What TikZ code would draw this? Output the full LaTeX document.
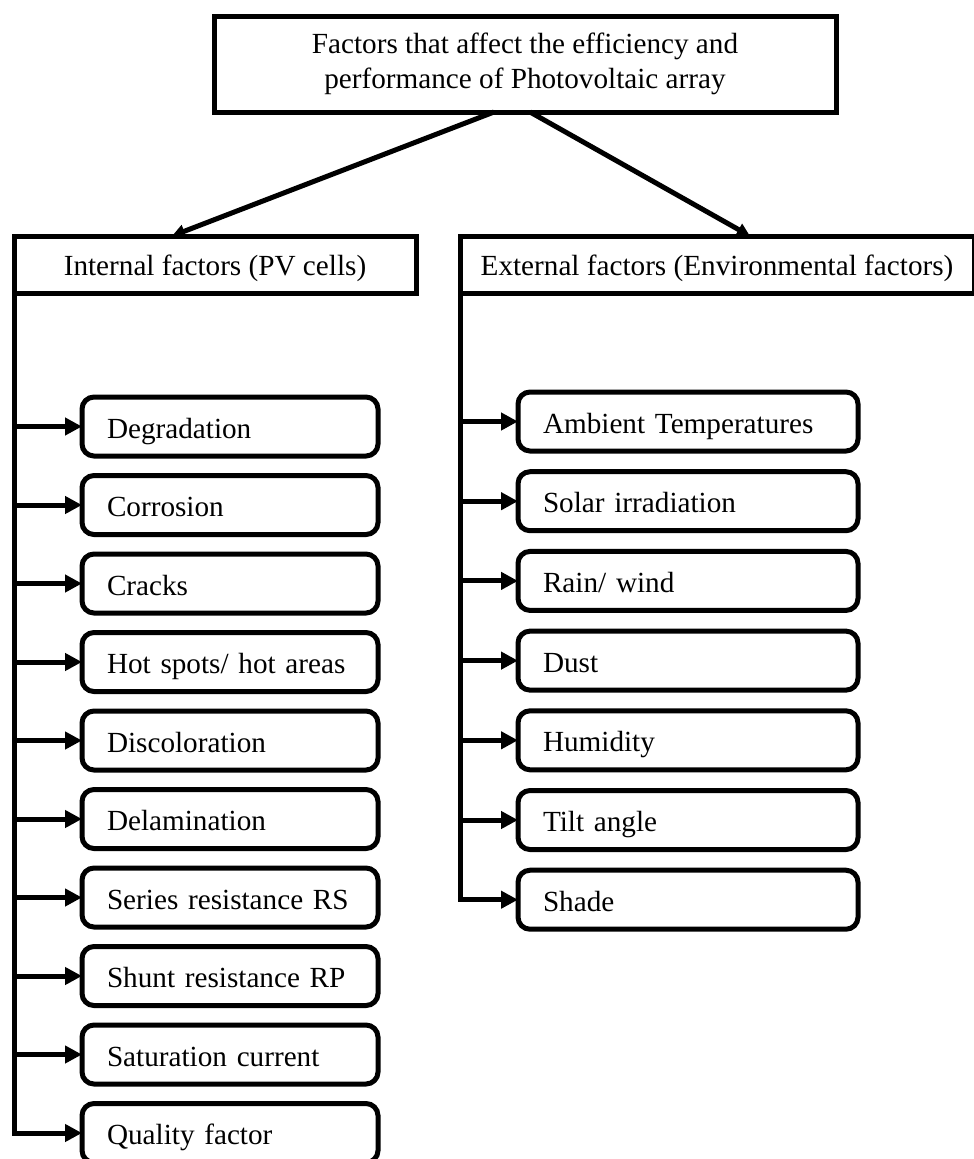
\documentclass[tikz,border=0pt]{standalone}
\usepackage{fontspec}
\setmainfont{Liberation Serif}
\usetikzlibrary{positioning,arrows.meta,calc}

\begin{document}
\begin{tikzpicture}[x=1pt,y=-1pt,
  every node/.style={font=\fontsize{29.2}{35}\selectfont,outer sep=0pt},
  topbox/.style={draw,line width=5pt,align=center,minimum width=622pt,minimum height=96pt},
  headbox/.style={draw,line width=5pt,minimum height=57pt,inner sep=0pt,
    text height=25pt,text depth=4pt},
  itembox/.style={draw,line width=5pt,rounded corners=12pt,minimum height=59pt,
    inner xsep=25pt,inner ysep=0pt,align=left,text height=26pt,text depth=3pt},
  arr/.style={line width=5pt,-{Triangle[length=17pt,width=17pt]}},
  toparr/.style={line width=5pt,-{Triangle[length=13pt,width=13pt]}}]
\useasboundingbox (0,0) rectangle (974,1159);

% Top box
\node[topbox] (top) at (525,64) {Factors that affect the efficiency and\\performance of Photovoltaic array};

% Headings
\node[headbox,minimum width=402pt] (int) at (215,264.5) {Internal factors (PV cells)};
\node[headbox,minimum width=514pt] (ext) at (717,264.5) {External factors (Environmental factors)};

% Arrows from top box
\draw[toparr] ($(top.south)+(-31,0)$) -- ($(int.north)+(-43,0)$);
\draw[toparr] ($(top.south)+(5,0)$) -- ($(ext.north)+(33,0)$);

% Internal factors
\foreach \t [count=\i] in {Degradation, Corrosion, Cracks, Hot spots/ hot areas,
  Discoloration, Delamination, Series resistance RS, Shunt resistance RP,
  Saturation current, Quality factor} {
  \node[itembox,text width=246pt] (l\i) at (230,{426.5+78.5*(\i-1)}) {\t};
}
\draw[arr] (int.south west) |- (l10.west);
\foreach \i in {1,...,9}
  \draw[arr] (int.west |- l\i.west) -- (l\i.west);

% External factors
\foreach \t [count=\i] in {Ambient Temperatures, Solar irradiation, Rain/ wind,
  Dust, Humidity, Tilt angle, Shade} {
  \node[itembox,text width=290pt] (r\i) at (688,{421.5+79.7*(\i-1)}) {\t};
}
\draw[arr] (ext.south west) |- (r7.west);
\foreach \i in {1,...,6}
  \draw[arr] (ext.west |- r\i.west) -- (r\i.west);
\end{tikzpicture}
\end{document}
